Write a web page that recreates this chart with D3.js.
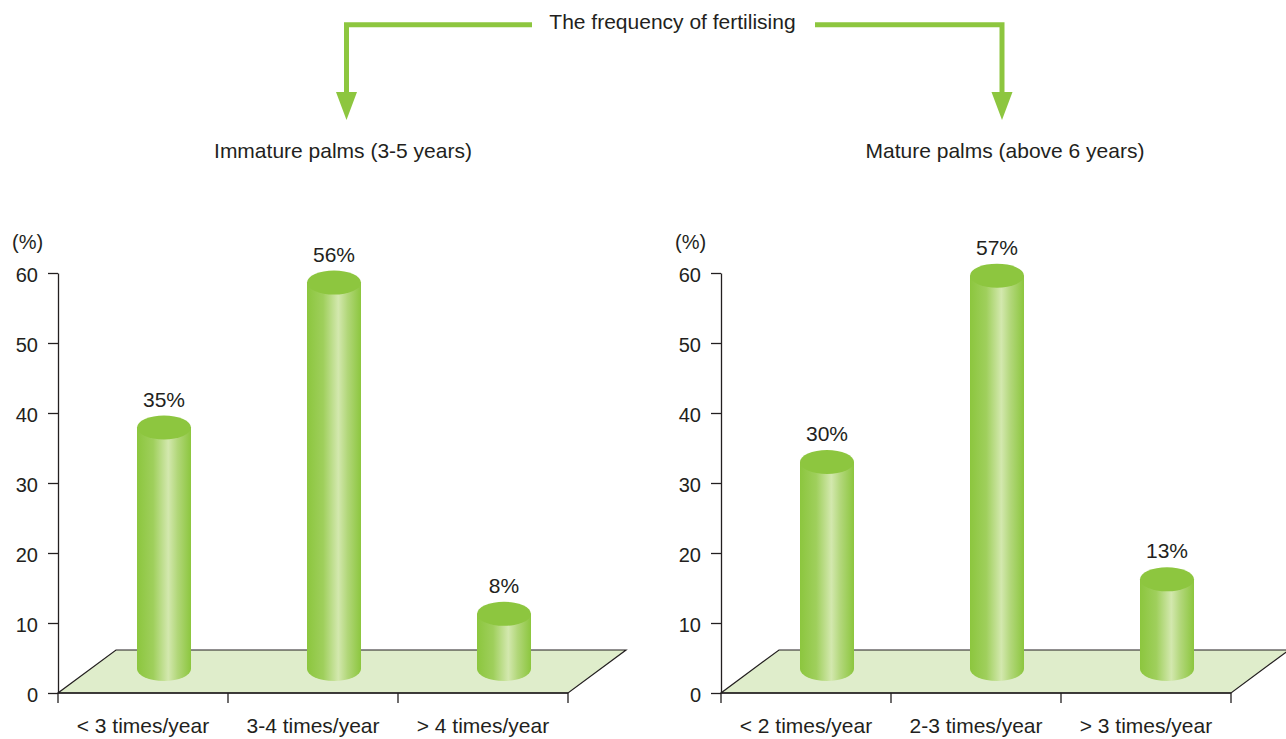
<!DOCTYPE html>
<html>
<head>
<meta charset="utf-8">
<script src="https://cdn.jsdelivr.net/npm/d3@7"></script>
<style>
  html, body { margin: 0; padding: 0; background: #ffffff; }
  svg { display: block; }
  text { font-family: "Liberation Sans", Arial, Helvetica, sans-serif; fill: #231f20; }
</style>
</head>
<body>
<svg id="chart" width="1286" height="739"></svg>
<script>
// ---- data ----
const mainTitle = "The frequency of fertilising";
const panelTitles = ["Immature palms (3-5 years)", "Mature palms (above 6 years)"];
const immatureCategories = ["< 3 times/year", "3-4 times/year", "> 4 times/year"];
const immatureValues = [35, 56, 8];
const matureCategories = ["< 2 times/year", "2-3 times/year", "> 3 times/year"];
const matureValues = [30, 57, 13];
const yTicks = [0, 10, 20, 30, 40, 50, 60];
const yUnit = "(%)";

// ---- style / layout ----
const green = "#8dc63f";
const floorFill = "#dfedcb";
const ink = "#231f20";
const svg = d3.select("#chart");

const defs = svg.append("defs");
const grad = defs.append("linearGradient").attr("id", "cyl")
  .attr("x1", "0%").attr("x2", "100%").attr("y1", "0%").attr("y2", "0%");
[[0, "#8cc63e"], [0.3, "#9fcf5c"], [0.58, "#d3e8ae"], [0.75, "#b2d77a"], [1, "#8cc63e"]]
  .forEach(([o, c]) => grad.append("stop").attr("offset", o).attr("stop-color", c));

// ---- header with arrows ----
svg.append("text").attr("x", 672.5).attr("y", 29).attr("text-anchor", "middle")
  .style("font-size", "21px").text(mainTitle);

const arrows = [
  { from: 532, to: 346.5 },
  { from: 815, to: 1002 }
];
arrows.forEach(a => {
  svg.append("path")
    .attr("d", `M${a.from},24.8H${a.to}V96`)
    .attr("fill", "none").attr("stroke", green).attr("stroke-width", 5);
  svg.append("path")
    .attr("d", `M${a.to - 10.5},92L${a.to + 10.5},92L${a.to},120Z`)
    .attr("fill", green);
});

const panelCenters = [343, 1005];
panelTitles.forEach((t, i) => {
  svg.append("text").attr("x", panelCenters[i]).attr("y", 158)
    .attr("text-anchor", "middle").style("font-size", "21px").text(t);
});

// ---- panels ----
function drawPanel(x0, cats, vals) {
  const g = svg.append("g");
  const width = 510;
  const depthX = 58, depthY = 43;
  const x = d3.scaleBand().domain(cats).range([x0, x0 + width]);
  const y = d3.scaleLinear().domain([0, 60]).range([693, 273]);
  // bars stand on the middle of the floor (pseudo-3D depth)
  const yBar = d3.scaleLinear().domain([0, 60]).range([669, 255]);

  // floor
  const y0 = y(0);
  g.append("path")
    .attr("d", `M${x0},${y0}L${x0 + width},${y0}L${x0 + width + depthX},${y0 - depthY}L${x0 + depthX},${y0 - depthY}Z`)
    .attr("fill", floorFill).attr("stroke", ink).attr("stroke-width", 1.2);

  // y axis
  const ya = g.append("g").attr("transform", `translate(${x0},0)`)
    .call(d3.axisLeft(y).tickValues(yTicks).tickSize(10).tickSizeOuter(0).tickPadding(10));
  ya.select(".domain").attr("stroke", ink).attr("stroke-width", 1.3);
  ya.selectAll(".tick line").attr("stroke", ink).attr("stroke-width", 1.3);
  ya.selectAll(".tick text").style("font-size", "20px").attr("fill", ink)
    .attr("font-family", "Liberation Sans, Arial, sans-serif").attr("dy", "0.4em");

  g.append("text").attr("x", x0 - 46).attr("y", 249).style("font-size", "20px").text(yUnit);

  // x axis: front edge, boundary ticks, labels
  g.append("line").attr("x1", x0).attr("x2", x0 + width).attr("y1", y0).attr("y2", y0)
    .attr("stroke", ink).attr("stroke-width", 1.3);
  const bounds = cats.map(c => x(c)).concat([x.range()[1]]);
  g.selectAll(".xt").data(bounds).enter().append("line")
    .attr("x1", d => d).attr("x2", d => d).attr("y1", y0).attr("y2", y0 + 10)
    .attr("stroke", ink).attr("stroke-width", 1.3);
  g.selectAll(".xl").data(cats).enter().append("text")
    .attr("x", d => x(d) + x.bandwidth() / 2).attr("y", 733)
    .attr("text-anchor", "middle").style("font-size", "21px").text(d => d);

  // cylinders
  const rx = 27, ry = 12, shift = 21;
  const data = cats.map((c, i) => ({ c, v: vals[i] }));
  const bar = g.selectAll(".bar").data(data).enter().append("g");
  bar.append("path")
    .attr("d", d => {
      const cx = x(d.c) + x.bandwidth() / 2 + shift;
      const top = yBar(d.v), base = yBar(0);
      return `M${cx - rx},${top}L${cx - rx},${base}A${rx},${ry} 0 0 0 ${cx + rx},${base}L${cx + rx},${top}Z`;
    })
    .attr("fill", "url(#cyl)");
  bar.append("ellipse")
    .attr("cx", d => x(d.c) + x.bandwidth() / 2 + shift)
    .attr("cy", d => yBar(d.v))
    .attr("rx", rx).attr("ry", ry)
    .attr("fill", green);
  bar.append("text")
    .attr("x", d => x(d.c) + x.bandwidth() / 2 + shift)
    .attr("y", d => yBar(d.v) - ry - 9)
    .attr("text-anchor", "middle").style("font-size", "21px")
    .text(d => d.v + "%");
}

drawPanel(58, immatureCategories, immatureValues);
drawPanel(721, matureCategories, matureValues);
</script>
</body>
</html>
